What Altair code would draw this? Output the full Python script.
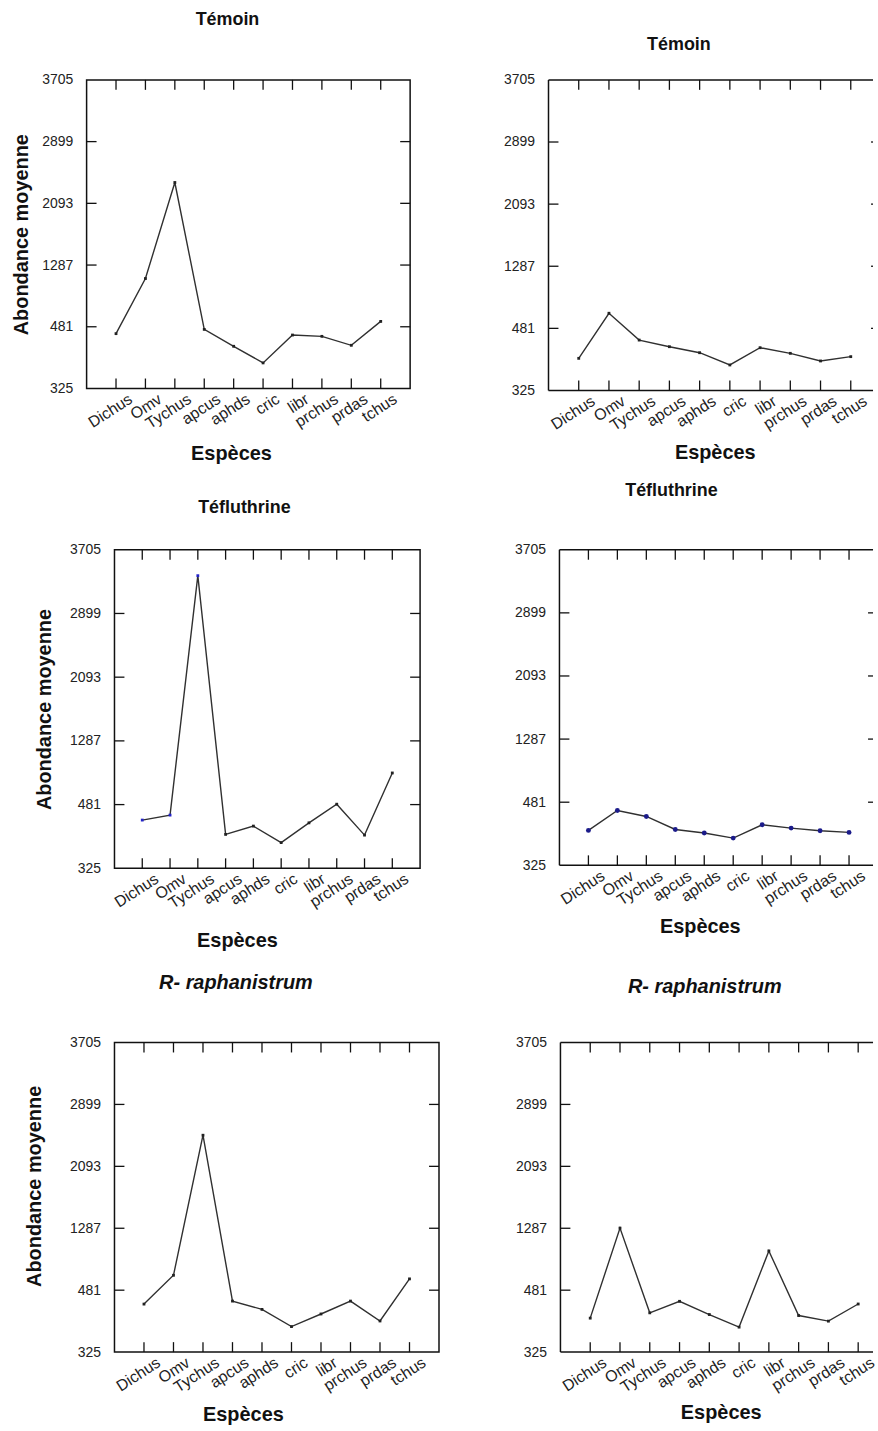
import altair as alt
import pandas as pd

# Species on the x axis (same order in every panel)
especes = ["Dichus", "Omv", "Tychus", "apcus", "aphds", "cric", "libr", "prchus", "prdas", "tchus"]

# Y axis: range -325..3705, ticks every 806 (bottom label shown without sign)
y_ticks = [-325, 481, 1287, 2093, 2899, 3705]

# Mean abundance per species, one list per panel
temoin_g = [391, 1111, 2365, 447, 226, 9, 373, 356, 239, 551]
temoin_d = [92, 677, 329, 243, 165, 6, 230, 157, 58, 114]
teflu_g = [285, 348, 3377, 104, 209, 0, 250, 486, 95, 881]
teflu_d = [121, 375, 299, 133, 87, 23, 193, 150, 116, 95]
rapha_g = [300, 675, 2498, 339, 231, 7, 171, 339, 80, 628]
rapha_d = [117, 1289, 186, 336, 164, 0, 992, 151, 78, 301]

FONT = "Liberation Sans"
TICK = 10
Y_TITLE = "Abondance moyenne"
INK = "#111"


def panel(values, title, w, h, title_offset, title_dx, x_title_x, x_title_pad,
          frame_w=None, italic=False, y_title="", y_title_pad=10, y_title_y=None,
          pt_color="#222", pt_size=8, pt_shape="square", blue_first=False):
    """One line chart framed with inward ticks.

    When frame_w is given the frame runs past the right page edge: the view is
    only `w` wide and its left/top/bottom sides are drawn as rules."""
    fw = frame_w or w
    step = fw / 11
    df = pd.DataFrame({"espece": especes, "abondance": values})
    xs = alt.Scale(type="point", domain=especes, range=[step, 10 * step], padding=0)
    ys = alt.Scale(domain=[-325, 3705], nice=False, zero=False)

    x_axis = alt.Axis(
        title="Espèces", titleFont=FONT, titleFontSize=20, titleFontWeight="bold",
        titleColor=INK, titlePadding=x_title_pad, titleX=x_title_x,
        labelFont=FONT, labelFontSize=16, labelColor="#222", labelAngle=-33,
        labelAlign="right", labelBaseline="top", labelOffset=10, labelPadding=2,
        ticks=False, domain=False, grid=False,
    )
    y_opts = dict(
        title=y_title,
        values=y_ticks, labelExpr="format(abs(datum.value), 'd')",
        labelFont=FONT, labelFontSize=14, labelColor="#222", labelPadding=14,
        ticks=False, domain=False, grid=False,
        titleFont=FONT, titleFontSize=20, titleFontWeight="bold", titleColor=INK,
        titlePadding=y_title_pad,
    )
    if y_title_y is not None:
        y_opts["titleY"] = y_title_y
    y_axis = alt.Axis(**y_opts)

    # the same encodings (and axes) are shared by every layer
    xenc = alt.X("espece:N", sort=especes, scale=xs, axis=x_axis)
    yenc = alt.Y("abondance:Q", scale=ys, axis=y_axis)

    base = alt.Chart(df)
    line = base.mark_line(color="#303030", strokeWidth=1.4).encode(x=xenc, y=yenc)
    if blue_first:
        color = alt.condition(
            alt.FieldOneOfPredicate(field="espece", oneOf=especes[:3]),
            alt.value("#2323c8"), alt.value("#222"))
    else:
        color = alt.value(pt_color)
    pts = base.mark_point(filled=True, shape=pt_shape, size=pt_size, opacity=1).encode(
        x=xenc, y=yenc, color=color)

    # inward tick marks on the sides of the frame
    xt = alt.Chart(pd.DataFrame({"espece": especes}))
    yt = alt.Chart(pd.DataFrame({"abondance": y_ticks[1:-1]}))
    rule = dict(color=INK, strokeWidth=1.3)
    layers = [
        line, pts,
        xt.mark_rule(**rule).encode(x=xenc, y=alt.value(h), y2=alt.value(h - TICK)),
        xt.mark_rule(**rule).encode(x=xenc, y=alt.value(0), y2=alt.value(TICK)),
        yt.mark_rule(**rule).encode(y=yenc, x=alt.value(0), x2=alt.value(TICK)),
    ]
    if fw - TICK < w:
        layers.append(yt.mark_rule(**rule).encode(
            y=yenc, x=alt.value(fw - TICK), x2=alt.value(min(fw, w))))

    props = dict(width=w, height=h)
    if frame_w:
        one = alt.Chart(pd.DataFrame({"k": [0]}))
        edge = dict(color=INK, strokeWidth=1.5)
        layers += [
            one.mark_rule(**edge).encode(x=alt.value(0), y=alt.value(0), y2=alt.value(h)),
            one.mark_rule(**edge).encode(x=alt.value(0), x2=alt.value(w), y=alt.value(0)),
            one.mark_rule(**edge).encode(x=alt.value(0), x2=alt.value(w), y=alt.value(h)),
        ]
        props["view"] = alt.ViewBackground(stroke="transparent")

    fs = 20 if italic else 18
    return alt.layer(*layers).properties(
        title=alt.TitleParams(
            title, font=FONT, fontSize=fs, fontWeight="bold",
            fontStyle="italic" if italic else "normal", color=INK,
            offset=title_offset, anchor="middle", frame="group", dx=title_dx),
        **props,
    )


def gap(w, h=1):
    """Empty cell that only takes up room in a row."""
    return alt.Chart(pd.DataFrame({"t": [""]})).mark_text().encode(text="t:N").properties(
        width=w, height=h, view=alt.ViewBackground(fill="white", stroke="white", strokeWidth=0))


p1 = panel(temoin_g, "Témoin", 325, 310, 44, -21, 145, 12,
           y_title=Y_TITLE, y_title_pad=10)
p2 = panel(temoin_d, "Témoin", 326, 312, 19, -32, 167, 9, frame_w=334)
p3 = panel(teflu_g, "Téfluthrine", 307, 320, 26, -23, 123, 20,
           y_title=Y_TITLE, y_title_pad=15, blue_first=True)
p4 = panel(teflu_d, "Téfluthrine", 315, 317, 43, -45, 141, 8, frame_w=320,
           pt_color="#1b1b8a", pt_size=24, pt_shape="circle")
p5 = panel(rapha_g, "R- raphanistrum", 326, 311, 43, -41, 129, 10, italic=True,
           y_title=Y_TITLE, y_title_pad=25, y_title_y=144)
p6 = panel(rapha_d, "R- raphanistrum", 314, 311, 39, -12, 161, 8, frame_w=329, italic=True)

row1 = alt.hconcat(gap(67, 393), p1, gap(99), p2, bounds="flush", spacing=20)
row2 = alt.hconcat(gap(95, 414), p3, gap(100), p4, bounds="flush", spacing=20)
row3 = alt.hconcat(gap(95), p5, gap(82), p6, bounds="flush", spacing=20)

chart = alt.vconcat(row1, row2, row3, spacing=10).properties(
    padding={"left": 0, "top": 7, "right": 0, "bottom": 0},
    background="white",
).configure_view(stroke=INK, strokeWidth=1.5)

chart.save("out.html", embed_options={"renderer": "svg", "actions": False})
